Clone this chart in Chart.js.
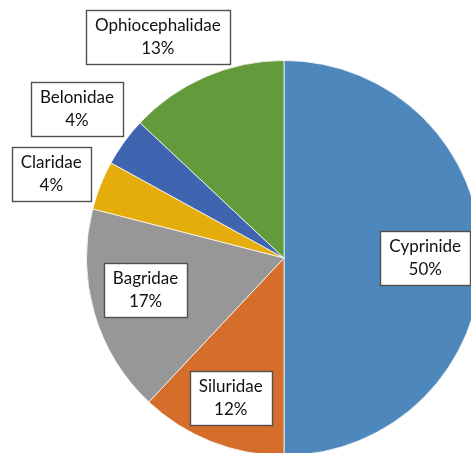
<!DOCTYPE html>
<html>
<head>
<meta charset="utf-8">
<script src="https://cdn.jsdelivr.net/npm/chart.js@4/dist/chart.umd.min.js"></script>
<style>
  html, body { margin: 0; padding: 0; background: #fff; overflow: hidden; width: 471px; height: 453px; }
  #wrap { position: absolute; left: 0; top: 0; width: 568px; height: 516px; }
</style>
</head>
<body>
<div id="wrap"><canvas id="c" width="568" height="516"></canvas></div>
<script>
const categories = ["Cyprinide", "Siluridae", "Bagridae", "Claridae", "Belonidae", "Ophiocephalidae"];
const percentages = [50, 12, 17, 4, 4, 13];
const sliceColors = ["#4E87BB", "#D46E2A", "#979797", "#E5AD0C", "#3F64B0", "#639B3C"];

// label placement: radial fraction of radius plus small nudges (layout, not data)
const labelPlacement = [
  { r: 0.715, dx: 0, dy: 0 },
  { r: 0.76, dx: 2, dy: 0 },
  { r: 0.73, dx: 0, dy: -8 },
  { r: 1.262, dx: -1, dy: 8 },
  { r: 1.29, dx: -1, dy: 1 },
  { r: 1.29, dx: -25, dy: 13 }
];

const labelPlugin = {
  id: 'boxLabels',
  afterDatasetsDraw(chart) {
    const ctx = chart.ctx;
    const meta = chart.getDatasetMeta(0);
    ctx.save();
    ctx.font = '17px Lato, "Open Sans", sans-serif';
    ctx.textAlign = 'center';
    ctx.textBaseline = 'middle';
    meta.data.forEach((arc, i) => {
      const p = arc.getProps(['x', 'y', 'startAngle', 'endAngle', 'outerRadius'], true);
      const mid = (p.startAngle + p.endAngle) / 2;
      const pl = labelPlacement[i];
      const cx = p.x + Math.cos(mid) * p.outerRadius * pl.r + pl.dx;
      const cy = p.y + Math.sin(mid) * p.outerRadius * pl.r + pl.dy;
      const l1 = categories[i];
      const l2 = percentages[i] + '%';
      const w = Math.max(ctx.measureText(l1).width, ctx.measureText(l2).width) + 18;
      const h = 54;
      const bx = Math.round(cx - w / 2) + 0.5, by = Math.round(cy - h / 2) + 0.5;
      ctx.fillStyle = '#ffffff';
      ctx.fillRect(bx, by, Math.round(w), h);
      ctx.strokeStyle = '#505050';
      ctx.lineWidth = 1.4;
      ctx.strokeRect(bx, by, Math.round(w), h);
      ctx.fillStyle = '#111111';
      ctx.fillText(l1, cx, cy - 11.5);
      ctx.fillText(l2, cx, cy + 11.5);
    });
    ctx.restore();
  }
};

new Chart(document.getElementById('c'), {
  type: 'pie',
  data: {
    labels: categories,
    datasets: [{
      data: percentages,
      backgroundColor: sliceColors,
      borderColor: 'rgba(255,255,255,0.75)',
      borderWidth: 1
    }]
  },
  options: {
    responsive: false,
    devicePixelRatio: 1,
    animation: false,
    layout: { padding: { left: 86, right: 86, top: 60, bottom: 60 } },
    plugins: {
      legend: { display: false },
      tooltip: { enabled: false },
      title: { display: false }
    }
  },
  plugins: [labelPlugin]
});
</script>
</body>
</html>
